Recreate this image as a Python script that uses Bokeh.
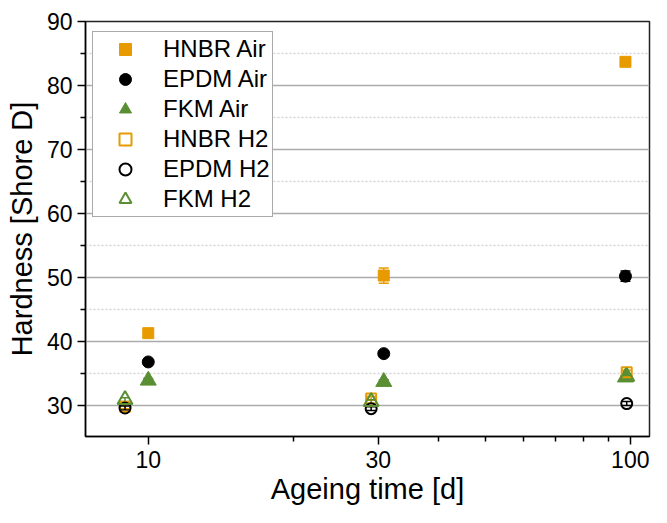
from bokeh.plotting import figure
from bokeh.models import (Range1d, FixedTicker, Whisker, ColumnDataSource, TeeHead,
                          Legend, LegendItem, BasicTickFormatter)
from bokeh.embed import file_html
from bokeh.resources import INLINE

# ---- data ----
days_air = [10.0, 30.8, 97.7]
days_h2 = [8.95, 29.0, 98.3]

hnbr_air = [41.3, 50.3, 83.7]
hnbr_air_err = [0.3, 1.2, 0.4]
epdm_air = [36.8, 38.1, 50.2]
epdm_air_err = [0.3, 0.4, 0.8]
fkm_air = [33.9, 33.7, 34.4]
fkm_air_err = [0.3, 0.3, 0.3]

hnbr_h2 = [29.8, 31.1, 35.2]
hnbr_h2_err = [0.3, 0.3, 0.3]
epdm_h2 = [29.6, 29.5, 30.3]
epdm_h2_err = [0.3, 0.3, 0.3]
fkm_h2 = [30.9, 30.6, 34.5]
fkm_h2_err = [0.3, 0.3, 0.3]

x_ticks = [10, 30, 100]
x_minor = [20, 40, 50, 60, 70, 80, 90]
y_ticks = [30, 40, 50, 60, 70, 80, 90]
y_minor = [35, 45, 55, 65, 75, 85]

ORANGE = "#E89B00"
GREEN = "#5A8E32"
BLACK = "#000000"
FONT = "Liberation Sans"

p = figure(width=651, height=507, x_axis_type="log",
           x_range=Range1d(7.41, 109.6), y_range=Range1d(25.15, 90),
           output_backend="svg", toolbar_location=None,
           min_border_left=85, min_border_top=21, min_border_right=2,
           min_border_bottom=64)

p.background_fill_color = "white"
p.outline_line_color = "#222222"
p.outline_line_width = 1.5

# axes
yt = FixedTicker(ticks=y_ticks, minor_ticks=y_minor)
xt = FixedTicker(ticks=x_ticks, minor_ticks=x_minor)
p.yaxis.ticker = yt
p.xaxis.ticker = xt
p.xaxis.formatter = BasicTickFormatter()
p.ygrid.ticker = yt
p.xgrid.visible = False

for ax in (p.xaxis[0], p.yaxis[0]):
    ax.axis_line_color = "black"
    ax.axis_line_width = 1.5
    ax.major_tick_line_color = "black"
    ax.major_tick_line_width = 1.5
    ax.minor_tick_line_color = "black"
    ax.minor_tick_line_width = 1.5
    ax.major_tick_out = 8
    ax.major_tick_in = 0
    ax.minor_tick_out = 5
    ax.minor_tick_in = 0
    ax.major_label_text_font = FONT
    ax.major_label_text_font_size = "23px"
    ax.major_label_text_color = "black"
    ax.axis_label_text_font = FONT
    ax.axis_label_text_font_size = "29px"
    ax.axis_label_text_font_style = "normal"
    ax.axis_label_text_color = "black"

p.xaxis.axis_label = "Ageing time [d]"
p.yaxis.axis_label = "Hardness [Shore D]"
p.xaxis.major_label_standoff = 6
p.xaxis.axis_label_standoff = 2
p.yaxis.major_label_standoff = 5
p.yaxis.axis_label_standoff = 6

p.ygrid.grid_line_color = "#ababab"
p.ygrid.grid_line_width = 1.5
p.ygrid.minor_grid_line_color = "#d4d4d4"
p.ygrid.minor_grid_line_width = 1.5
p.ygrid.minor_grid_line_dash = "2 2"


def add_series(xs, ys, errs, color, marker, size, filled):
    src = ColumnDataSource(dict(x=xs, y=ys,
                                lo=[a - b for a, b in zip(ys, errs)],
                                hi=[a + b for a, b in zip(ys, errs)]))
    w = Whisker(source=src, base="x", lower="lo", upper="hi", dimension="height",
                line_color=color, line_width=1.5,
                upper_head=TeeHead(size=10, line_color=color, line_width=1.5),
                lower_head=TeeHead(size=10, line_color=color, line_width=1.5))
    p.add_layout(w)
    if filled:
        r = p.scatter("x", "y", source=src, marker=marker, size=size,
                      fill_color=color, line_color=color, line_width=1)
    else:
        r = p.scatter("x", "y", source=src, marker=marker, size=size - 1,
                      fill_color=None, line_color=color, line_width=2)
    return r


r1 = add_series(days_air, hnbr_air, hnbr_air_err, ORANGE, "square", 11, True)
r2 = add_series(days_air, epdm_air, epdm_air_err, BLACK, "circle", 12, True)
r3 = add_series(days_air, fkm_air, fkm_air_err, GREEN, "triangle", 16, True)
r4 = add_series(days_h2, hnbr_h2, hnbr_h2_err, ORANGE, "square", 11, False)
r5 = add_series(days_h2, epdm_h2, epdm_h2_err, BLACK, "circle", 12, False)
r6 = add_series(days_h2, fkm_h2, fkm_h2_err, GREEN, "triangle", 16, False)

legend = Legend(items=[
    LegendItem(label="HNBR Air", renderers=[r1]),
    LegendItem(label="EPDM Air", renderers=[r2]),
    LegendItem(label="FKM Air", renderers=[r3]),
    LegendItem(label="HNBR H2", renderers=[r4]),
    LegendItem(label="EPDM H2", renderers=[r5]),
    LegendItem(label="FKM H2", renderers=[r6]),
], location=(7, 219))
legend.margin = 0
legend.padding = 2
legend.spacing = 0
legend.glyph_width = 60
legend.glyph_height = 30
legend.label_height = 30
legend.label_standoff = 8
legend.label_text_font = FONT
legend.label_text_font_size = "24px"
legend.label_text_color = "black"
legend.border_line_color = "#555555"
legend.border_line_width = 1.5
legend.background_fill_color = "white"
legend.background_fill_alpha = 1.0
p.add_layout(legend)

open("out.html", "w").write(file_html(p, INLINE))
